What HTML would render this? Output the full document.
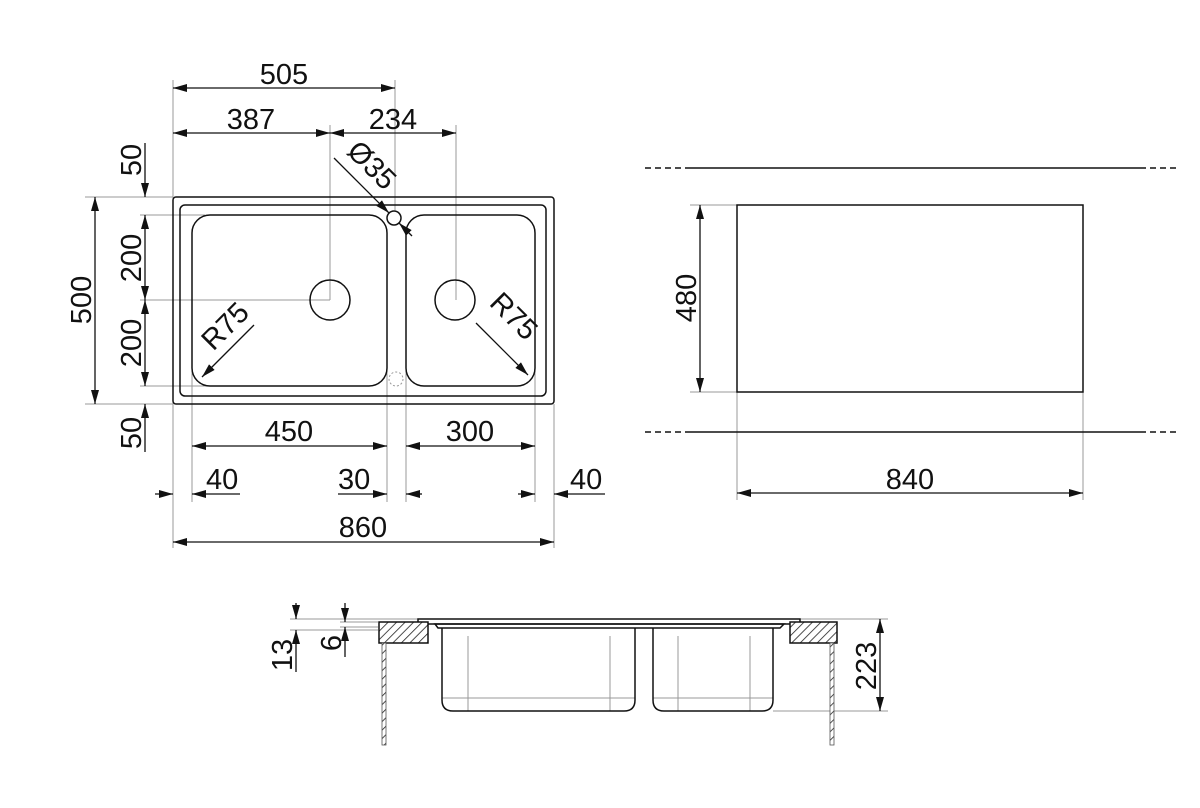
<!DOCTYPE html>
<html><head><meta charset="utf-8"><style>
html,body{margin:0;padding:0;background:#fff;}
svg{display:block;}
text{font-family:"Liberation Sans",Arial,sans-serif;font-size:29px;fill:#111;}
</style></head><body>
<svg width="1200" height="808" viewBox="0 0 1200 808" xmlns="http://www.w3.org/2000/svg">
<defs>
<marker id="a" viewBox="0 0 14 8" refX="14" refY="4" markerWidth="14" markerHeight="8" markerUnits="userSpaceOnUse" orient="auto-start-reverse"><path d="M0,0 L14,4 L0,8 Z" fill="#111"/></marker>
<pattern id="h" width="6" height="6" patternUnits="userSpaceOnUse" patternTransform="rotate(45)"><rect width="6" height="6" fill="#fff"/><line x1="0" y1="0" x2="0" y2="6" stroke="#222" stroke-width="1.6"/></pattern>
</defs>
<g fill="none" stroke="#999" stroke-width="1">
<!-- extension lines top view -->
<line x1="173" y1="80" x2="173" y2="548"/>
<line x1="395" y1="80" x2="395" y2="210"/>
<line x1="330" y1="125" x2="330" y2="300"/>
<line x1="456" y1="125" x2="456" y2="300"/>
<line x1="140" y1="215" x2="205" y2="215"/>
<line x1="140" y1="300" x2="330" y2="300"/>
<line x1="140" y1="386" x2="210" y2="386"/>
<line x1="85" y1="197" x2="173" y2="197"/>
<line x1="85" y1="404" x2="173" y2="404"/>
<line x1="192" y1="360" x2="192" y2="502"/>
<line x1="387" y1="360" x2="387" y2="502"/>
<line x1="406" y1="360" x2="406" y2="502"/>
<line x1="535" y1="360" x2="535" y2="502"/>
<line x1="554" y1="404" x2="554" y2="548"/>
<!-- right view -->
<line x1="690" y1="205" x2="737" y2="205"/>
<line x1="690" y1="392" x2="737" y2="392"/>
<line x1="737" y1="392" x2="737" y2="500"/>
<line x1="1083" y1="392" x2="1083" y2="500"/>
<!-- section -->
<line x1="290" y1="619" x2="418" y2="619"/>
<line x1="290" y1="630" x2="378" y2="630"/>
<line x1="340" y1="622" x2="378" y2="622"/>
<line x1="340" y1="627" x2="378" y2="627"/>
<line x1="800" y1="619" x2="888" y2="619"/>
<line x1="773" y1="711" x2="888" y2="711"/>
<line x1="442" y1="698" x2="635" y2="698"/>
<line x1="653" y1="698" x2="773" y2="698"/>
<line x1="468" y1="636" x2="468" y2="711"/>
<line x1="610" y1="636" x2="610" y2="711"/>
<line x1="678" y1="636" x2="678" y2="711"/>
<line x1="750" y1="636" x2="750" y2="711"/>
</g>
<g fill="none" stroke="#111" stroke-width="1.5">
<rect x="173" y="197" width="381" height="207" rx="3"/>
<rect x="180" y="205" width="366" height="191" rx="5"/>
<rect x="192" y="215" width="195" height="171" rx="18"/>
<rect x="406" y="215" width="129" height="171" rx="18"/>
<circle cx="330" cy="300" r="20"/>
<circle cx="455" cy="300" r="20"/>
<circle cx="394" cy="218" r="7"/>
<circle cx="396" cy="379" r="7" stroke="#999" stroke-dasharray="2,2" stroke-width="1"/>
<rect x="737" y="205" width="346" height="187"/>
<!-- section -->
<rect x="418" y="619" width="382" height="5"/>
<path d="M435,624 L784,624 L780,628 L438,628 Z"/>
<path d="M442,628 L442,700 Q442,711 453,711 L624,711 Q635,711 635,700 L635,628"/>
<path d="M653,628 L653,700 Q653,711 664,711 L762,711 Q773,711 773,700 L773,628"/>
</g>
<rect x="379" y="622" width="49" height="21" fill="url(#h)" stroke="#111" stroke-width="1.5"/>
<rect x="790" y="622" width="47" height="21" fill="url(#h)" stroke="#111" stroke-width="1.5"/>
<rect x="382" y="643" width="4" height="102" fill="url(#h)" stroke="#555" stroke-width="0.8"/>
<rect x="830" y="643" width="4" height="102" fill="url(#h)" stroke="#555" stroke-width="0.8"/>
<!-- right view lines -->
<g stroke="#111" stroke-width="1.5">
<line x1="690" y1="168" x2="1140" y2="168"/>
<line x1="690" y1="432" x2="1140" y2="432"/>
<line x1="645" y1="168" x2="690" y2="168" stroke-dasharray="6,4"/>
<line x1="1140" y1="168" x2="1180" y2="168" stroke-dasharray="6,4"/>
<line x1="645" y1="432" x2="690" y2="432" stroke-dasharray="6,4"/>
<line x1="1140" y1="432" x2="1180" y2="432" stroke-dasharray="6,4"/>
</g>
<!-- dimension lines -->
<g stroke="#111" stroke-width="1.3" fill="none">
<line x1="173" y1="88" x2="395" y2="88" marker-start="url(#a)" marker-end="url(#a)"/>
<line x1="173" y1="133" x2="330" y2="133" marker-start="url(#a)" marker-end="url(#a)"/>
<line x1="330" y1="133" x2="456" y2="133" marker-start="url(#a)" marker-end="url(#a)"/>
<line x1="334" y1="158" x2="389" y2="213" marker-end="url(#a)"/>
<line x1="412" y1="236" x2="399" y2="223" marker-end="url(#a)"/>
<line x1="145" y1="143" x2="145" y2="197" marker-end="url(#a)"/>
<line x1="145" y1="215" x2="145" y2="300" marker-start="url(#a)" marker-end="url(#a)"/>
<line x1="145" y1="300" x2="145" y2="386" marker-start="url(#a)" marker-end="url(#a)"/>
<line x1="145" y1="452" x2="145" y2="404" marker-end="url(#a)"/>
<line x1="95" y1="197" x2="95" y2="404" marker-start="url(#a)" marker-end="url(#a)"/>
<line x1="254" y1="325" x2="202" y2="377" marker-end="url(#a)"/>
<line x1="476" y1="323" x2="528" y2="375" marker-end="url(#a)"/>
<line x1="192" y1="446" x2="387" y2="446" marker-start="url(#a)" marker-end="url(#a)"/>
<line x1="406" y1="446" x2="535" y2="446" marker-start="url(#a)" marker-end="url(#a)"/>
<line x1="155" y1="494" x2="173" y2="494" marker-end="url(#a)"/>
<line x1="240" y1="494" x2="192" y2="494" marker-end="url(#a)"/>
<line x1="338" y1="494" x2="387" y2="494" marker-end="url(#a)"/>
<line x1="422" y1="494" x2="406" y2="494" marker-end="url(#a)"/>
<line x1="518" y1="494" x2="535" y2="494" marker-end="url(#a)"/>
<line x1="605" y1="494" x2="554" y2="494" marker-end="url(#a)"/>
<line x1="173" y1="542" x2="554" y2="542" marker-start="url(#a)" marker-end="url(#a)"/>
<line x1="700" y1="205" x2="700" y2="392" marker-start="url(#a)" marker-end="url(#a)"/>
<line x1="737" y1="493" x2="1083" y2="493" marker-start="url(#a)" marker-end="url(#a)"/>
<line x1="296" y1="603" x2="296" y2="619" marker-end="url(#a)"/>
<line x1="296" y1="672" x2="296" y2="630" marker-end="url(#a)"/>
<line x1="345" y1="603" x2="345" y2="622" marker-end="url(#a)"/>
<line x1="345" y1="657" x2="345" y2="627" marker-end="url(#a)"/>
<line x1="880" y1="619" x2="880" y2="711" marker-start="url(#a)" marker-end="url(#a)"/>
</g>
<!-- labels -->
<text x="284" y="84" text-anchor="middle">505</text>
<text x="251" y="129" text-anchor="middle">387</text>
<text x="393" y="129" text-anchor="middle">234</text>
<text x="206" y="489">40</text>
<text x="338" y="489">30</text>
<text x="570" y="489">40</text>
<text x="289" y="441" text-anchor="middle">450</text>
<text x="470" y="441" text-anchor="middle">300</text>
<text x="363" y="537" text-anchor="middle">860</text>
<text x="910" y="489" text-anchor="middle">840</text>
<text transform="translate(141,160) rotate(-90)" text-anchor="middle">50</text>
<text transform="translate(141,258) rotate(-90)" text-anchor="middle">200</text>
<text transform="translate(141,343) rotate(-90)" text-anchor="middle">200</text>
<text transform="translate(141,433) rotate(-90)" text-anchor="middle">50</text>
<text transform="translate(91,300) rotate(-90)" text-anchor="middle">500</text>
<text transform="translate(696,298) rotate(-90)" text-anchor="middle">480</text>
<text transform="translate(292,655) rotate(-90)" text-anchor="middle">13</text>
<text transform="translate(341,643) rotate(-90)" text-anchor="middle">6</text>
<text transform="translate(876,666) rotate(-90)" text-anchor="middle">223</text>
<text transform="translate(232,333) rotate(-45)" text-anchor="middle">R75</text>
<text transform="translate(507,323) rotate(45)" text-anchor="middle">R75</text>
<text transform="translate(365,172) rotate(45)" text-anchor="middle">Ø35</text>
</svg>
</body></html>
